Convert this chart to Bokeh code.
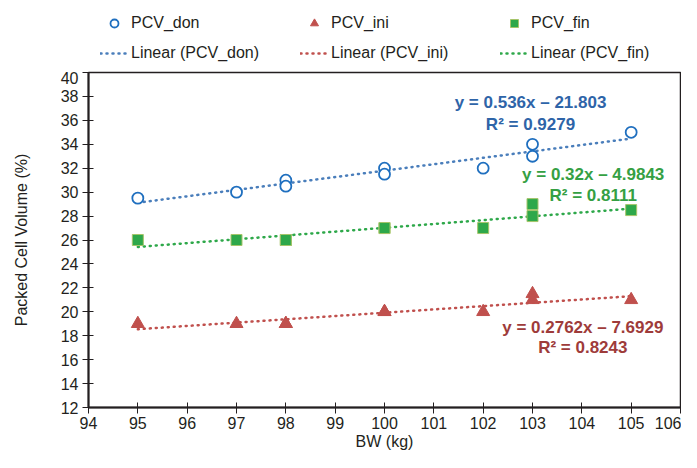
import numpy as np
from bokeh.plotting import figure
from bokeh.layouts import column
from bokeh.models import Range1d, Legend, LegendItem, Label, FixedTicker
from bokeh.embed import file_html
from bokeh.resources import INLINE

# ---- data ----
bw = [95, 97, 98, 98, 100, 100, 102, 103, 103, 105]
pcv_don = [29.5, 30, 31, 30.5, 32, 31.5, 32, 34, 33, 35]
pcv_ini = [19, 19, 19, 19, 20, 20, 20, 21.5, 21, 21]
pcv_fin = [26, 26, 26, 26, 27, 27, 27, 29, 28, 28.5]

x_ticks = list(range(94, 107))
y_ticks = list(range(12, 41, 2))

series_names = ["PCV_don", "PCV_ini", "PCV_fin"]
eq_don = ["y = 0.536x \u2013 21.803", "R\u00b2 = 0.9279"]
eq_ini = ["y = 0.2762x \u2013 7.6929", "R\u00b2 = 0.8243"]
eq_fin = ["y = 0.32x \u2013 4.9843", "R\u00b2 = 0.8111"]

FONT = "Liberation Sans"
BLUE, RED, GREEN = "#4a7ebb", "#c0504d", "#2ea84a"
DASH = "1 5"

STYLES = {
    "PCV_don": dict(marker="circle", size=11, fill_color="white", line_color="#1f6fbf", line_width=1.8),
    "PCV_ini": dict(marker="triangle", size=13, fill_color=RED, line_color=RED, line_width=1),
    "PCV_fin": dict(marker="square", size=11, fill_color=GREEN, line_color="#a6c56a", line_width=1),
}
LINE_COLORS = {"PCV_don": BLUE, "PCV_ini": RED, "PCV_fin": GREEN}
SERIES = dict(zip(series_names, [pcv_don, pcv_ini, pcv_fin]))

# ---------------- main plot ----------------
p = figure(width=681, height=381, output_backend="svg", toolbar_location=None,
           x_range=Range1d(94, 106), y_range=Range1d(12, 40),
           min_border_left=88, min_border_right=1, min_border_top=1,
           min_border_bottom=44)
p.xgrid.visible = False
p.ygrid.visible = False
p.outline_line_color = "#231f20"
p.outline_line_width = 1.5
p.background_fill_color = "white"
p.border_fill_color = "white"

for ax in (p.xaxis[0], p.yaxis[0]):
    ax.axis_line_width = 2
    ax.axis_line_color = "#231f20"
    ax.major_tick_line_color = "#231f20"
    ax.major_tick_line_width = 1
    ax.major_tick_in = 5
    ax.major_tick_out = 6
    ax.minor_tick_line_color = None
    ax.major_label_text_font = FONT
    ax.major_label_text_font_size = "16px"
    ax.major_label_text_color = "#231f20"
    ax.axis_label_text_font = FONT
    ax.axis_label_text_font_size = "16px"
    ax.axis_label_text_font_style = "normal"
    ax.axis_label_text_color = "#231f20"

p.xaxis.ticker = FixedTicker(ticks=x_ticks)
p.yaxis.ticker = FixedTicker(ticks=y_ticks)
p.xaxis.axis_label = "BW (kg)"
p.yaxis.axis_label = "Packed Cell Volume (%)"
p.xaxis.major_label_standoff = 3
p.yaxis.major_label_standoff = 4
p.xaxis.axis_label_standoff = 1
p.yaxis.axis_label_standoff = 28

def trend(y):
    a, b = np.polyfit(bw, y, 1)
    xs = [min(bw), max(bw)]
    return xs, [a * v + b for v in xs]

for name in series_names:
    tx, ty = trend(SERIES[name])
    p.line(tx, ty, line_color=LINE_COLORS[name], line_width=2.5, line_dash=DASH, line_cap="round")
for name in series_names:
    p.scatter(bw, SERIES[name], **STYLES[name])

def add_eq(lines, x, y0, y1, color):
    for txt, yy in zip(lines, (y0, y1)):
        p.add_layout(Label(x=x, y=yy, text=txt, text_align="center",
                           text_baseline="middle", text_font=FONT,
                           text_font_size="17px", text_font_style="bold",
                           text_color=color))

add_eq(eq_don, 102.96, 37.48, 35.63, "#2e64a8")
add_eq(eq_fin, 104.23, 31.51, 29.74, "#35a043")
add_eq(eq_ini, 104.02, 18.72, 17.04, "#9e3b3a")

# ---------------- legend strip (same series, plotted outside its visible range) ----------------
lg = figure(width=681, height=71, output_backend="svg", toolbar_location=None,
            x_range=Range1d(0, 1), y_range=Range1d(0, 1), min_border=0,
            x_axis_location=None, y_axis_location=None)
lg.xgrid.visible = False
lg.ygrid.visible = False
lg.outline_line_color = None

marker_items, line_items = [], []
for name in series_names:
    r = lg.scatter(bw, SERIES[name], **STYLES[name])
    marker_items.append(LegendItem(label=name, renderers=[r]))
for name in series_names:
    tx, ty = trend(SERIES[name])
    r = lg.line(tx, ty, line_color=LINE_COLORS[name], line_width=2.5, line_dash=DASH, line_cap="round")
    line_items.append(LegendItem(label="Linear (%s)" % name, renderers=[r]))

legend = Legend(items=marker_items + line_items, location=(12, 8),
                orientation="horizontal", ncols=3)
legend.label_text_font = FONT
legend.label_text_font_size = "16px"
legend.label_text_color = "#231f20"
legend.glyph_width = 28
legend.glyph_height = 20
legend.label_height = 20
legend.label_width = 159
legend.label_standoff = 3
legend.spacing = 10
legend.padding = 0
legend.margin = 0
legend.border_line_color = None
legend.background_fill_alpha = 0
lg.add_layout(legend, "center")

layout = column(lg, p)
open("out.html", "w").write(file_html(layout, INLINE))
